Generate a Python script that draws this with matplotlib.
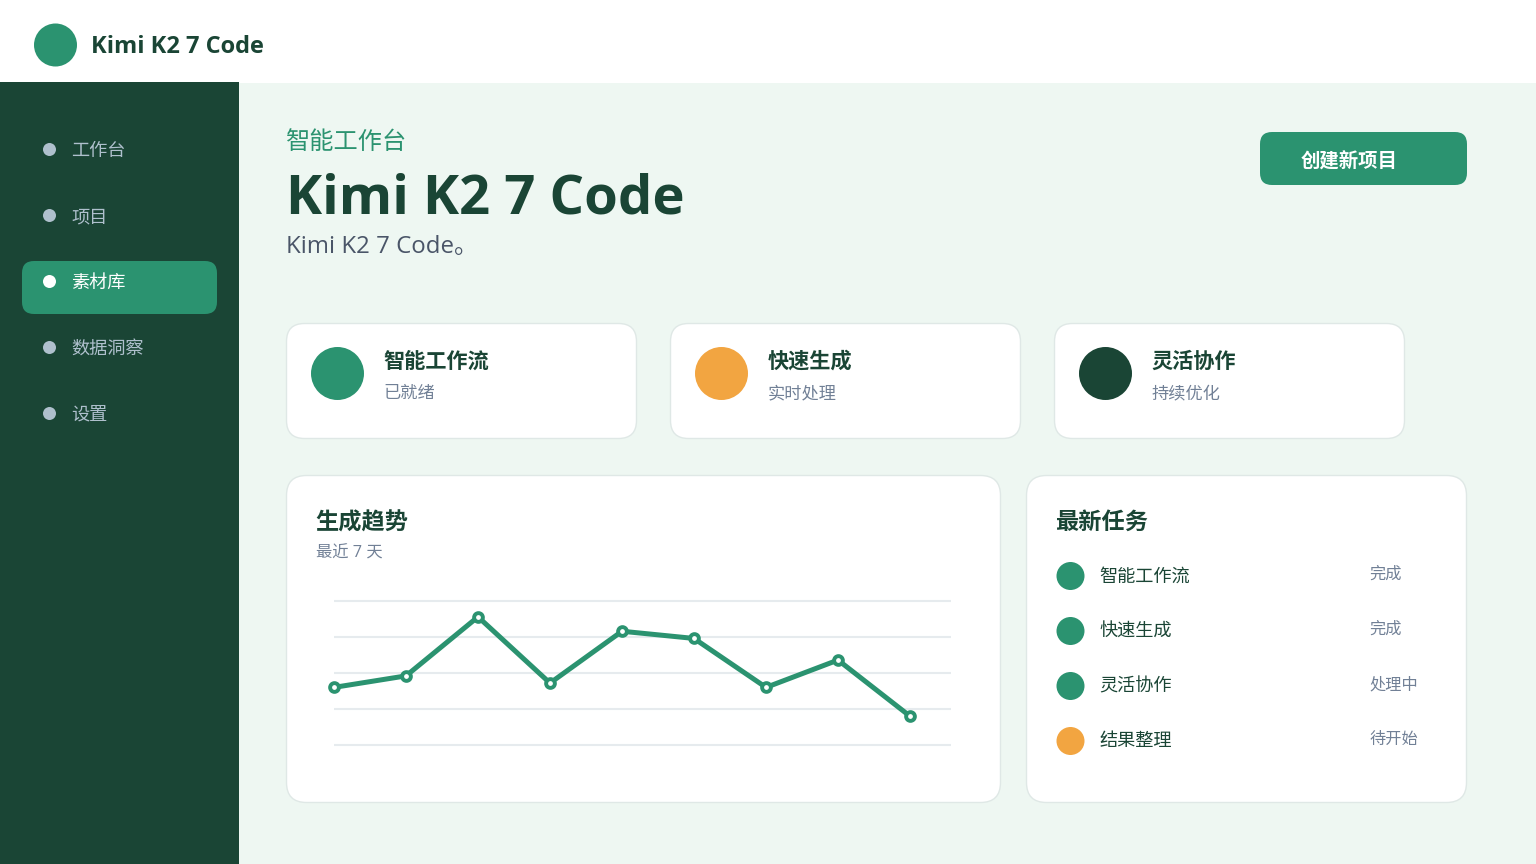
import matplotlib
matplotlib.use("Agg")
import matplotlib.pyplot as plt
from matplotlib.patches import FancyBboxPatch, Circle, Rectangle

plt.rcParams['font.family'] = ['Open Sans', 'Noto Sans CJK SC', 'DejaVu Sans']

W, H = 1536, 864
GREEN, ORANGE, DARK = '#2B9370', '#F2A541', '#1A4535'
BG, BORDER, GRID = '#EEF7F2', '#DFE8E6', '#E6EBEE'
SLATE, MUTED, SIDE = '#4A5568', '#718096', '#AFC0CD'

nav_items = ['工作台', '项目', '素材库', '数据洞察', '设置']
active_nav = '素材库'
card_titles = ['智能工作流', '快速生成', '灵活协作']
card_subs = ['已就绪', '实时处理', '持续优化']
card_colors = [GREEN, ORANGE, DARK]
trend_values = [40, 48, 89, 43, 79, 74, 40, 59, 20]
grid_values = [0, 25, 50, 75, 100]
task_names = ['智能工作流', '快速生成', '灵活协作', '结果整理']
task_states = ['完成', '完成', '处理中', '待开始']
task_colors = [GREEN, GREEN, GREEN, ORANGE]

fig = plt.figure(figsize=(W / 100, H / 100), dpi=100, facecolor=BG)
ui = fig.add_axes([0, 0, 1, 1])
ui.set_xlim(0, W)
ui.set_ylim(H, 0)
ui.axis('off')


def px(size):
    return size * 0.72


def txt(x, y, s, size, color, weight='normal', **kw):
    kw.setdefault('va', 'center')
    kw.setdefault('ha', 'left')
    ui.text(x, y, s, fontsize=px(size), color=color, fontweight=weight, **kw)


def rbox(x0, y0, x1, y1, r, fc, ec='none', lw=0, z=1):
    ui.add_patch(FancyBboxPatch((x0 + r, y0 + r), x1 - x0 - 2 * r, y1 - y0 - 2 * r,
                                boxstyle=f'round,pad={r},rounding_size={r}',
                                fc=fc, ec=ec, lw=lw, zorder=z))


def dot(x, y, r, c, z=2):
    ui.add_patch(Circle((x, y), r, fc=c, ec='none', zorder=z))


# Header and sidebar
ui.add_patch(Rectangle((0, 0), W, 82.5, fc='white', ec='none', zorder=0))
ui.add_patch(Rectangle((0, 82), 239, H - 82, fc=DARK, ec='none', zorder=0.5))
dot(55.5, 45, 21.5, GREEN)
txt(91, 47, 'Kimi K2 7 Code', 23.6, DARK, 'bold')

# Navigation
for i, item in enumerate(nav_items):
    y = 149.5 + 66 * i
    on = item == active_nav
    if on:
        rbox(22, 261, 217, 314, 12, GREEN)
    dot(49.5, y, 6.5, 'white' if on else SIDE)
    txt(71, y + 1.6, item, 18.2, 'white' if on else SIDE, zorder=3)

# Heading
txt(286, 142.6, '智能工作台', 24.2, GREEN)
txt(286, 200, 'Kimi K2 7 Code', 54.4, DARK, 'bold')
txt(286, 247, 'Kimi K2 7 Code。', 24, SLATE)
rbox(1260, 132, 1467, 185, 12, GREEN)
txt(1301, 162.5, '创建新项目', 19.4, 'white', 'bold', zorder=3)

# Summary cards
for i, (title, sub, col) in enumerate(zip(card_titles, card_subs, card_colors)):
    x = 286.5 + 384 * i
    rbox(x, 323.5, x + 350, 438.5, 18, 'white', BORDER, 1)
    dot(x + 51, 373.5, 26.5, col)
    txt(x + 97, 362.5, title, 21.2, DARK, 'bold', zorder=3)
    txt(x + 97, 394, sub, 17.2, MUTED, zorder=3)

# Panels
rbox(286.5, 475.5, 1000.5, 802.5, 20, 'white', BORDER, 1)
rbox(1026.5, 475.5, 1466.5, 802.5, 20, 'white', BORDER, 1)
txt(315, 523.5, '生成趋势', 23.2, DARK, 'bold', zorder=3)
txt(316, 554, '最近 7 天', 16.3, MUTED, zorder=3)
txt(1055, 523, '最新任务', 23.2, DARK, 'bold', zorder=3)

# Trend chart
ax = fig.add_axes([334 / W, 1 - 745 / H, (951 - 334) / W, (745 - 601) / H], zorder=5)
ax.patch.set_alpha(0)
ax.set_xlim(0, (951 - 334) / 72)
ax.set_ylim(0, 100)
ax.axis('off')
for g in grid_values:
    ax.axhline(g, color=GRID, lw=1.5, zorder=1, clip_on=False, solid_capstyle='butt')
ax.plot(range(len(trend_values)), trend_values, color=GREEN, lw=3.6, marker='o', ms=6.3,
        mfc='white', mec=GREEN, mew=2.8, zorder=3, clip_on=False, solid_joinstyle='round')

# Task list
for i, (name, state, col) in enumerate(zip(task_names, task_states, task_colors)):
    y = 575 + 55 * i
    dot(1070.5, y + 1, 14, col)
    txt(1099.5, y + 1.3, name, 18.2, DARK, zorder=3)
    txt(1369.5, y, state, 16.2, MUTED, zorder=3)

fig.savefig('out.png', dpi=100, facecolor=BG)
